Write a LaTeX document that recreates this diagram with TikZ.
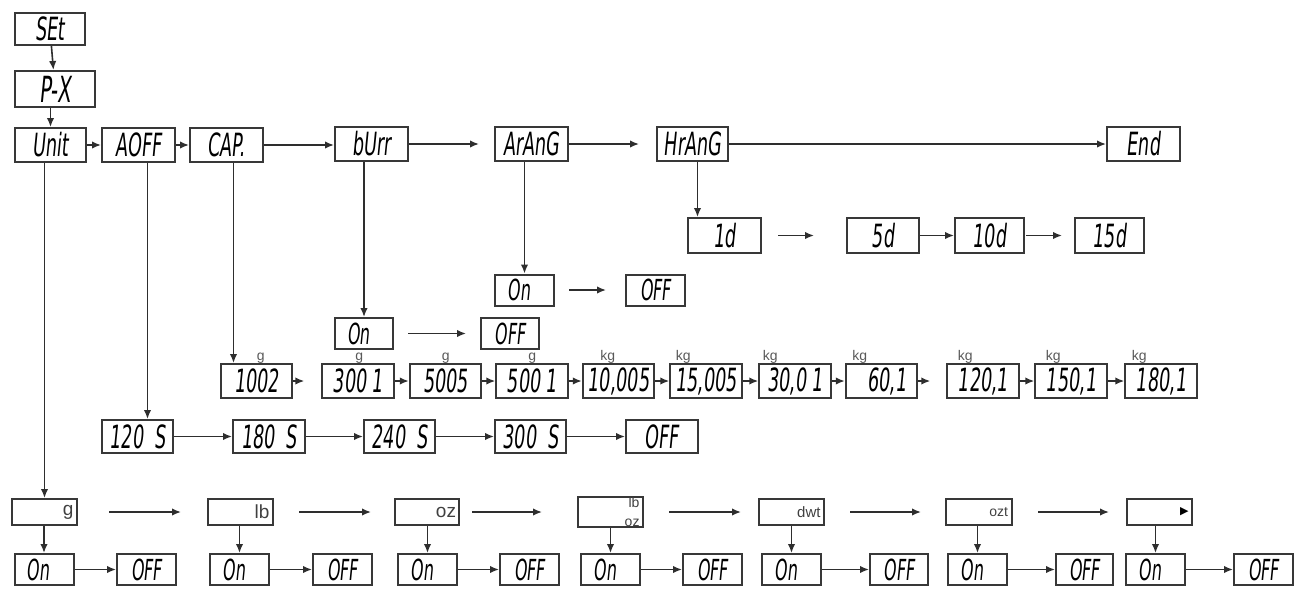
\documentclass[tikz,border=0pt]{standalone}
\usepackage{fontspec}
\setmainfont{Liberation Sans}
\newfontfamily\lcdfont[FakeStretch=0.55,FakeSlant=0.1]{DejaVu Sans}
\newfontfamily\symfont{DejaVu Sans}
\usetikzlibrary{arrows.meta}
\begin{document}
\begin{tikzpicture}[x=1pt,y=-1pt,
  lcd/.style={draw=black!78, line width=2pt, inner sep=0pt, fill=white,
    font=\lcdfont\fontsize{32}{32}\selectfont},
  topbox/.style={lcd, minimum width=72pt, minimum height=34pt},
  capbox/.style={lcd, minimum width=71.5pt, minimum height=34pt},
  onoff/.style={lcd, minimum width=59pt, minimum height=31pt,
    font=\lcdfont\fontsize{29}{29}\selectfont},
  onbox/.style={onoff, text width=34pt, align=left},
  ubox/.style={draw=black!78, line width=2pt, inner sep=0pt,
    minimum width=65pt, minimum height=26pt, text width=58pt, align=right,
    font=\fontsize{19}{19}\selectfont, text=black!75},
  unitlab/.style={anchor=base, inner sep=0pt, text=black!65,
    font=\fontsize{14}{14}\selectfont},
  arr/.style={draw=black!82, line width=1.6pt, -{Latex[length=9pt,width=7.5pt]}}
]
\useasboundingbox (0,0) rectangle (1300,595);

% ---- top chain
\node[lcd, minimum width=70pt, minimum height=32pt] (set) at (50,29) {SEt};
\node[lcd, minimum width=80pt, minimum height=36pt,
  font=\lcdfont\fontsize{36}{36}\selectfont] (px) at (55,89) {P-X};
\node[topbox, minimum width=71pt] (unit) at (50.5,145) {Unit};
\node[topbox, minimum width=73pt] (aoff) at (138.5,145) {AOFF};
\node[topbox, minimum width=73pt] (cap) at (226.5,145) {CAP.};
\node[topbox, minimum width=73pt] (burr) at (371.5,144) {bUrr};
\node[topbox, minimum width=73pt] (arang) at (531.5,144) {ArAnG};
\node[topbox, minimum width=71pt] (hrang) at (692.5,144) {HrAnG};
\node[topbox, minimum width=73pt] (end) at (1143.5,144) {End};

\draw[arr] (set) -- (px);
\draw[arr] (px.south -| unit.north) -- (unit.north);
\draw[arr] (unit) -- (aoff);
\draw[arr] (aoff) -- (cap);
\draw[arr] (cap.east) -- (burr.west |- cap.east);
\draw[arr, shorten >=15pt] (burr) -- (arang);
\draw[arr, shorten >=17pt] (arang) -- (hrang);
\draw[arr] (hrang) -- (end);

% ---- HrAnG branch
\node[topbox, minimum width=73pt, minimum height=35pt] (d1) at (724.5,235.5) {1d};
\node[topbox, minimum width=72pt, minimum height=35pt] (d5) at (883,235.5) {5d};
\node[topbox, minimum width=69pt, minimum height=35pt] (d10) at (989.5,235.5) {10d};
\node[topbox, minimum width=69pt, minimum height=35pt] (d15) at (1109.5,235.5) {15d};
\coordinate (hrd) at ([xshift=5pt]hrang.south);
\draw[arr] (hrd) -- (hrd |- d1.north);
\draw[arr, shorten <=16pt, shorten >=32pt] (d1) -- (d5);
\draw[arr] (d5) -- (d10);
\draw[arr, shorten <=1pt, shorten >=12pt] (d10) -- (d15);

% ---- ArAnG branch
\node[onbox] (aOn) at (524.5,290) {On};
\node[onoff] (aOff) at (655.5,290) {OFF};
\draw[arr] (aOn.north |- arang.south) -- (aOn.north);
\draw[arr, shorten <=14pt, shorten >=19pt] (aOn) -- (aOff);

% ---- bUrr branch
\node[onbox, minimum width=58pt] (bOn) at (364,333.5) {On};
\node[onoff, minimum width=58pt] (bOff) at (510,333.5) {OFF};
\draw[arr] (bOn.north |- burr.south) -- (bOn.north);
\draw[arr, shorten <=14pt, shorten >=14pt] (bOn) -- (bOff);

% ---- CAP branch
\node[capbox] (c1) at (256.5,381) {1002};
\node[capbox] (c2) at (358,381) {300\,1};
\node[capbox] (c3) at (445.5,381) {5005};
\node[capbox] (c4) at (532,381) {500\,1};
\node[capbox] (c5) at (618.5,381) {10,005};
\node[capbox] (c6) at (706,381) {15,005};
\node[capbox] (c7) at (795,381) {30,0\,1};
\node[capbox] (c8) at (881.5,381) {\hphantom{0}60,1};
\node[capbox] (c9) at (983,381) {120,1};
\node[capbox] (c10) at (1071,381) {150,1};
\node[capbox] (c11) at (1161,381) {180,1};
\coordinate (capd) at ([xshift=7pt]cap.south);
\draw[arr] (capd) -- (capd |- c1.north);
\draw[arr, shorten >=17pt] (c1) -- (c2);
\draw[arr] (c2) -- (c3);
\draw[arr] (c3) -- (c4);
\draw[arr] (c4) -- (c5);
\draw[arr] (c5) -- (c6);
\draw[arr] (c6) -- (c7);
\draw[arr] (c7) -- (c8);
\draw[arr, shorten >=16pt] (c8) -- (c9);
\draw[arr] (c9) -- (c10);
\draw[arr] (c10) -- (c11);

\node[unitlab] (l1) at ([xshift=41pt,yshift=3pt]c1.north west) {g};
\node[unitlab] (l2) at ([xshift=38pt,yshift=3pt]c2.north west) {g};
\node[unitlab] (l3) at ([xshift=37pt,yshift=3pt]c3.north west) {g};
\node[unitlab] (l4) at ([xshift=37pt,yshift=3pt]c4.north west) {g};
\node[unitlab] (l5) at ([xshift=26pt,yshift=3pt]c5.north west) {kg};
\node[unitlab] (l6) at ([xshift=14pt,yshift=3pt]c6.north west) {kg};
\node[unitlab] (l7) at ([xshift=12pt,yshift=3pt]c7.north west) {kg};
\node[unitlab] (l8) at ([xshift=15pt,yshift=3pt]c8.north west) {kg};
\node[unitlab] (l9) at ([xshift=19pt,yshift=3pt]c9.north west) {kg};
\node[unitlab] (l10) at ([xshift=19pt,yshift=3pt]c10.north west) {kg};
\node[unitlab] (l11) at ([xshift=15pt,yshift=3pt]c11.north west) {kg};

% ---- AOFF branch
\node[capbox, minimum width=71pt, minimum height=33pt] (s1) at (137.5,436.5) {120\,\,S};
\node[capbox, minimum width=72pt, minimum height=33pt] (s2) at (269,436.5) {180\,\,S};
\node[capbox, minimum width=71pt, minimum height=33pt] (s3) at (399.5,436.5) {240\,\,S};
\node[capbox, minimum width=71pt, minimum height=33pt] (s4) at (530.5,436.5) {300\,\,S};
\node[capbox, minimum width=72pt, minimum height=33pt] (s5) at (662,436.5) {OFF};
\coordinate (aoffd) at ([xshift=9pt]aoff.south);
\draw[arr] (aoffd) -- (aoffd |- s1.north);
\draw[arr] (s1) -- (s2);
\draw[arr] (s2) -- (s3);
\draw[arr] (s3) -- (s4);
\draw[arr] (s4) -- (s5);

% ---- Unit branch
\node[ubox] (u1) at (44.5,512) {g};
\node[ubox] (u2) at (240.5,512) {lb};
\node[ubox, minimum width=64pt] (u3) at (427,512) {oz};
\node[ubox] (u4) at (610.5,512) {\fontsize{14}{11}\selectfont lb\\oz};
\node[ubox, font=\fontsize{15}{15}\selectfont] (u5) at (791.5,512) {dwt};
\node[ubox, minimum width=66pt, font=\fontsize{14}{14}\selectfont] (u6) at (979,512) {ozt};
\node[ubox, font=\symfont\fontsize{11}{11}\selectfont, text=black] (u7) at (1159.5,512) {▶};

\draw[arr] (u1.north |- unit.south) -- (u1.north);
\draw[arr, shorten <=31pt, shorten >=26pt] (u1) -- (u2);
\draw[arr, shorten <=25pt, shorten >=23pt] (u2) -- (u3);
\draw[arr, shorten <=12pt, shorten >=35pt] (u3) -- (u4);
\draw[arr, shorten <=25pt, shorten >=17pt] (u4) -- (u5);
\draw[arr, shorten <=25pt, shorten >=24pt] (u5) -- (u6);
\draw[arr, shorten <=25pt, shorten >=17pt] (u6) -- (u7);

\node[onbox] (o1) at (44,569.5) {On};
\node[onoff] (f1) at (146.5,569.5) {OFF};
\node[onbox] (o2) at (239.5,569.5) {On};
\node[onoff] (f2) at (342.5,569.5) {OFF};
\node[onbox] (o3) at (427.5,569.5) {On};
\node[onoff] (f3) at (529.5,569.5) {OFF};
\node[onbox] (o4) at (610.5,569.5) {On};
\node[onoff] (f4) at (712.5,569.5) {OFF};
\node[onbox] (o5) at (791.5,569.5) {On};
\node[onoff, minimum width=58pt] (f5) at (899,569.5) {OFF};
\node[onbox] (o6) at (977.5,569.5) {On};
\node[onoff, minimum width=57pt] (f6) at (1084.5,569.5) {OFF};
\node[onbox] (o7) at (1155.5,569.5) {On};
\node[onoff] (f7) at (1263.5,569.5) {OFF};

\foreach \i in {1,...,7}{
  \draw[arr] (o\i.north |- u\i.south) -- (o\i.north);
  \draw[arr] (o\i) -- (f\i);
}
\end{tikzpicture}
\end{document}
